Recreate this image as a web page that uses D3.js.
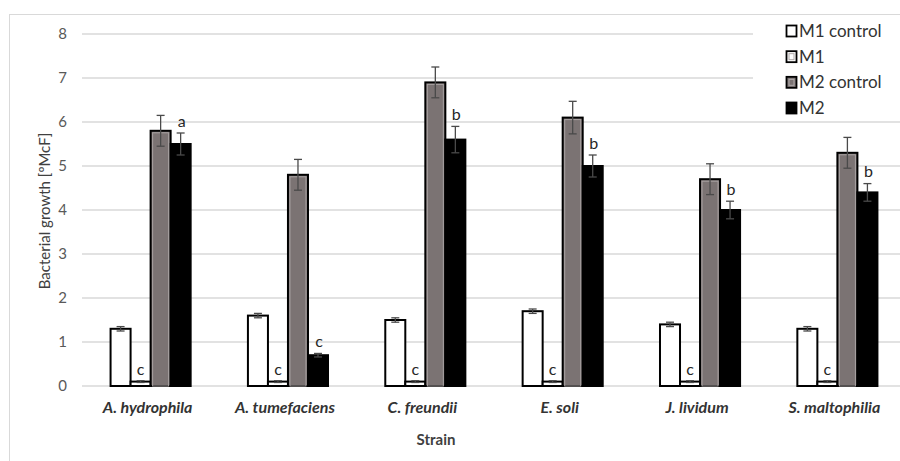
<!DOCTYPE html>
<html>
<head>
<meta charset="utf-8">
<script src="https://cdn.jsdelivr.net/npm/d3@7"></script>
<style>
  body { margin: 0; background: #fff; }
  svg { display: block; font-family: Lato, "Open Sans", sans-serif; }
</style>
</head>
<body>
<script>
// Data
const categories = ["A. hydrophila", "A. tumefaciens", "C. freundii", "E. soli", "J. lividum", "S. maltophilia"];
const seriesNames = ["M1 control", "M1", "M2 control", "M2"];
const m1Control = [1.3, 1.6, 1.5, 1.7, 1.4, 1.3];
const m1 = [0.1, 0.1, 0.1, 0.1, 0.1, 0.1];
const m2Control = [5.8, 4.8, 6.9, 6.1, 4.7, 5.3];
const m2 = [5.5, 0.7, 5.6, 5.0, 4.0, 4.4];
const m1ControlErr = [0.05, 0.05, 0.05, 0.05, 0.05, 0.05];
const m1Err = [0.02, 0.02, 0.02, 0.02, 0.02, 0.02];
const m2ControlErr = [0.35, 0.35, 0.35, 0.37, 0.35, 0.35];
const m2Err = [0.25, 0.04, 0.3, 0.25, 0.2, 0.2];
const m1Letters = ["c", "c", "c", "c", "c", "c"];
const m2Letters = ["a", "c", "b", "b", "b", "b"];
const yTicks = [0, 1, 2, 3, 4, 5, 6, 7, 8];

const width = 900, height = 461;

const svg = d3.select("body").append("svg")
    .attr("width", width)
    .attr("height", height);

// outer chart frame
svg.append("rect")
    .attr("x", 9.5).attr("y", 14.5)
    .attr("width", 1000).attr("height", 600)
    .attr("fill", "none")
    .attr("stroke", "#d9d9d9");

const x0 = d3.scaleBand()
    .domain(categories)
    .range([82, 906])
    .paddingInner(0.417)
    .paddingOuter(0.208);

const x1 = d3.scaleBand()
    .domain(seriesNames)
    .range([0, x0.bandwidth()]);

const y = d3.scaleLinear().domain([0, 8]).range([386, 34]);

// gridlines
svg.append("g").selectAll("line")
    .data(yTicks)
    .join("line")
    .attr("x1", 82).attr("x2", 906)
    .attr("y1", d => y(d)).attr("y2", d => y(d))
    .attr("stroke", "#d9d9d9")
    .attr("stroke-width", 1.5);

// y tick labels
svg.append("g").selectAll("text")
    .data(yTicks)
    .join("text")
    .attr("x", 67)
    .attr("y", d => y(d))
    .attr("dy", "0.35em")
    .attr("text-anchor", "end")
    .attr("font-size", 15)
    .attr("fill", "#595959")
    .text(d => d);

const rows = categories.map((c, i) => ({
    cat: c,
    vals: [
        {s: "M1 control", v: m1Control[i], e: m1ControlErr[i]},
        {s: "M1", v: m1[i], e: m1Err[i]},
        {s: "M2 control", v: m2Control[i], e: m2ControlErr[i]},
        {s: "M2", v: m2[i], e: m2Err[i]}
    ]
}));

const fills = {"M1 control": "#ffffff", "M1": "#ffffff", "M2 control": "#7b7373", "M2": "#000000"};

const groups = svg.append("g").selectAll("g")
    .data(rows)
    .join("g")
    .attr("transform", d => `translate(${x0(d.cat)},0)`);

groups.selectAll("rect.bar")
    .data(d => d.vals)
    .join("rect")
    .attr("class", "bar")
    .attr("x", d => x1(d.s))
    .attr("y", d => y(d.v))
    .attr("width", x1.bandwidth())
    .attr("height", d => y(0) - y(d.v))
    .attr("fill", d => fills[d.s])
    .attr("stroke", "#000")
    .attr("stroke-width", 2);

// light inner edge on the gray bars
groups.selectAll("rect.inner")
    .data(d => d.vals.filter(v => v.s === "M2 control"))
    .join("rect")
    .attr("class", "inner")
    .attr("x", d => x1(d.s) + 2)
    .attr("y", d => y(d.v) + 2)
    .attr("width", x1.bandwidth() - 4)
    .attr("height", d => y(0) - y(d.v) - 2)
    .attr("fill", "none")
    .attr("stroke", "#a8a2a2")
    .attr("stroke-width", 1);

// error bars
const err = groups.selectAll("g.err")
    .data(d => d.vals)
    .join("g")
    .attr("class", "err")
    .attr("stroke", "#4a4a4a")
    .attr("stroke-width", 1.3);

err.append("line")
    .attr("x1", d => x1(d.s) + x1.bandwidth() / 2)
    .attr("x2", d => x1(d.s) + x1.bandwidth() / 2)
    .attr("y1", d => y(d.v - d.e))
    .attr("y2", d => y(d.v + d.e));
err.append("line")
    .attr("x1", d => x1(d.s) + x1.bandwidth() / 2 - 4)
    .attr("x2", d => x1(d.s) + x1.bandwidth() / 2 + 4)
    .attr("y1", d => y(d.v + d.e))
    .attr("y2", d => y(d.v + d.e));
err.append("line")
    .attr("x1", d => x1(d.s) + x1.bandwidth() / 2 - 4)
    .attr("x2", d => x1(d.s) + x1.bandwidth() / 2 + 4)
    .attr("y1", d => y(d.v - d.e))
    .attr("y2", d => y(d.v - d.e));

// significance letters
groups.append("text")
    .attr("x", x1("M1") + x1.bandwidth() / 2)
    .attr("y", (d, i) => y(m1[i] + m1Err[i]) - 11)
    .attr("dy", "0.35em")
    .attr("text-anchor", "middle")
    .attr("font-size", 16)
    .attr("fill", "#262626")
    .text((d, i) => m1Letters[i]);

groups.append("text")
    .attr("x", x1("M2") + x1.bandwidth() / 2 + 1)
    .attr("y", (d, i) => y(m2[i] + m2Err[i]) - 12)
    .attr("dy", "0.35em")
    .attr("text-anchor", "middle")
    .attr("font-size", 16)
    .attr("fill", "#262626")
    .text((d, i) => m2Letters[i]);

// category labels
svg.append("g").selectAll("text")
    .data(categories)
    .join("text")
    .attr("x", d => x0(d) + x0.bandwidth() / 2 - 3)
    .attr("y", 407)
    .attr("dy", "0.35em")
    .attr("text-anchor", "middle")
    .attr("font-size", 16)
    .attr("font-weight", "bold")
    .attr("font-style", "italic")
    .attr("fill", "#333333")
    .text(d => d);

// axis titles
svg.append("text")
    .attr("x", 436).attr("y", 440)
    .attr("dy", "0.35em")
    .attr("text-anchor", "middle")
    .attr("font-size", 15)
    .attr("font-weight", "bold")
    .attr("fill", "#404040")
    .text("Strain");

svg.append("text")
    .attr("transform", "translate(45,211) rotate(-90)")
    .attr("dy", "0.35em")
    .attr("text-anchor", "middle")
    .attr("font-size", 15)
    .attr("fill", "#404040")
    .text("Bacterial growth [ºMcF]");

// legend
const legend = svg.append("g");
legend.append("rect")
    .attr("x", 753).attr("y", 16)
    .attr("width", 147).attr("height", 102)
    .attr("fill", "#fff");

const legendY = d3.scalePoint().domain(seriesNames).range([31, 108]);

const li = legend.selectAll("g.item")
    .data(seriesNames)
    .join("g")
    .attr("class", "item")
    .attr("transform", d => `translate(0,${legendY(d)})`);

li.append("rect")
    .attr("x", 786.5).attr("y", -5.5)
    .attr("width", 10).attr("height", 11)
    .attr("fill", d => fills[d])
    .attr("stroke", "#000")
    .attr("stroke-width", 1.8);

li.filter(d => d === "M1" || d === "M2 control")
    .append("rect")
    .attr("x", 789).attr("y", -3)
    .attr("width", 5).attr("height", 6)
    .attr("fill", "none")
    .attr("stroke", "#b0aaaa")
    .attr("stroke-width", 1);

li.append("text")
    .attr("x", 799)
    .attr("dy", "0.35em")
    .attr("font-size", 17)
    .attr("fill", "#333333")
    .text(d => d);
</script>
</body>
</html>
